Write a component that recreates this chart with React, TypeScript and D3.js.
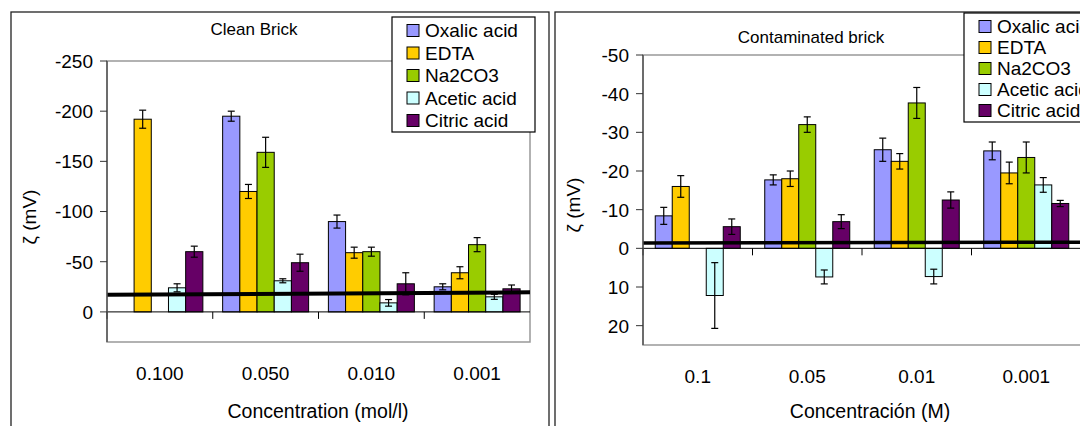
import React from "react";
import * as d3 from "d3";

// categories
const cleanCats = ["0.100", "0.050", "0.010", "0.001"];
const contCats = ["0.1", "0.05", "0.01", "0.001"];
const seriesNames = ["Oxalic acid", "EDTA", "Na2CO3", "Acetic acid", "Citric acid"];
const seriesColors = ["#9999FF", "#FFCC00", "#99CC00", "#CCFFFF", "#660066"];

// clean brick, zeta (mV) and error
const oxalicClean = [null, -195, -90, -25];
const edtaClean = [-192, -120, -59, -39];
const na2co3Clean = [null, -159, -60, -67];
const aceticClean = [-24, -31, -9, -15];
const citricClean = [-60, -49, -28, -23];
const oxalicCleanErr = [0, 5, 6.5, 3];
const edtaCleanErr = [9, 7, 5.5, 6];
const na2co3CleanErr = [0, 15, 4.5, 7];
const aceticCleanErr = [4, 2, 3.3, 2.5];
const citricCleanErr = [5.5, 8.5, 11, 3.8];
const cleanTrend = [-17, -19.5];
const cleanTicks = [-250, -200, -150, -100, -50, 0];

// contaminated brick
const oxalicCont = [-8.4, -17.7, -25.5, -25.2];
const edtaCont = [-16, -18, -22.5, -19.5];
const na2co3Cont = [null, -32, -37.6, -23.5];
const aceticCont = [12.2, 7.4, 7.3, -16.4];
const citricCont = [-5.6, -6.9, -12.5, -11.6];
const oxalicContErr = [2.2, 1.3, 3, 2.3];
const edtaContErr = [2.8, 2, 2, 2.8];
const na2co3ContErr = [0, 2, 4, 4];
const aceticContErr = [8.5, 1.8, 1.9, 1.9];
const citricContErr = [2, 1.8, 2.1, 0.8];
const contTrend = [-1.35, -1.6];
const contTicks = [-50, -40, -30, -20, -10, 0, 10, 20];

const FONT = "'Liberation Sans', Arial, sans-serif";

function Panel(props: any) {
  const { frameX, frameW, title, titleX, titleY, left, right, top, bottom, domain,
    ticks, cats, values, errs, gap, trend, trendW, xTitle, xTitleX, catY, yLabelX, yLabelY, legend } = props;
  const y = d3.scaleLinear().domain(domain).range([top, bottom]);
  const x0 = d3.scaleBand().domain(cats).range([left, right]).paddingInner(0).paddingOuter(0);
  const x1 = d3.scaleBand().domain(seriesNames).range([0, x0.bandwidth()]).paddingInner(0).paddingOuter(gap / 2);
  const zero = y(0);
  return (
    <g>
      <rect x={frameX} y={12} width={frameW} height={430} fill="white" stroke="#222" strokeWidth={1.3} />
      <text x={titleX} y={titleY} textAnchor="middle" fontSize={17} fontFamily={FONT}>{title}</text>
      {/* plot area */}
      <rect x={left} y={top} width={right - left} height={bottom - top} fill="white" stroke="#999" strokeWidth={1.5} />
      {values.map((vals: (number | null)[], si: number) =>
        vals.map((v, ci) => {
          if (v === null) return null;
          const bx = (x0(cats[ci]) as number) + (x1(seriesNames[si]) as number);
          const bw = x1.bandwidth();
          const y0 = Math.min(y(v), zero);
          const h = Math.abs(y(v) - zero);
          const e = errs[si][ci];
          const cx = bx + bw / 2;
          return (
            <g key={si + "-" + ci}>
              <rect x={bx} y={y0} width={bw} height={h} fill={seriesColors[si]} stroke="#000" strokeWidth={1} />
              {e > 0 && (
                <g stroke="#000" strokeWidth={1.2}>
                  <line x1={cx} x2={cx} y1={y(v - e)} y2={y(v + e)} />
                  <line x1={cx - 3.5} x2={cx + 3.5} y1={y(v - e)} y2={y(v - e)} />
                  <line x1={cx - 3.5} x2={cx + 3.5} y1={y(v + e)} y2={y(v + e)} />
                </g>
              )}
            </g>
          );
        })
      )}
      {/* zero line and category ticks */}
      <line x1={left} x2={right} y1={zero} y2={zero} stroke="#000" strokeWidth={1} />
      {cats.map((c: string, i: number) => (
        <line key={"ct" + i} x1={(x0(c) as number)} x2={(x0(c) as number)} y1={zero} y2={zero + 7} stroke="#000" strokeWidth={1} />
      ))}
      <line x1={left} x2={left + trendW} y1={y(trend[0])} y2={y(trend[1])} stroke="#000" strokeWidth={trendW > 430 ? 3.5 : 4} />
      {/* y axis */}
      <line x1={left} x2={left} y1={top} y2={bottom} stroke="#555" strokeWidth={1.5} />
      {ticks.map((t: number) => (
        <g key={"yt" + t}>
          <line x1={left - 7} x2={left} y1={y(t)} y2={y(t)} stroke="#333" strokeWidth={1} />
          <text x={left - 14} y={y(t)} dy="0.36em" textAnchor="end" fontSize={19} fontFamily={FONT}>{t}</text>
        </g>
      ))}
      {cats.map((c: string) => (
        <text key={"cl" + c} x={(x0(c) as number) + x0.bandwidth() / 2} y={catY} textAnchor="middle" fontSize={19} fontFamily={FONT}>{c}</text>
      ))}
      <text x={xTitleX} y={418} textAnchor="middle" fontSize={19.5} fontFamily={FONT}>{xTitle}</text>
      <text transform={`translate(${yLabelX},${yLabelY}) rotate(-90)`} textAnchor="middle" dy="0.36em" fontSize={19} fontFamily={FONT}>ζ (mV)</text>
      {/* legend */}
      <rect x={legend.x} y={legend.y} width={legend.w} height={legend.h} fill="white" stroke="#000" strokeWidth={1.2} />
      {seriesNames.map((s, i) => {
        const base = legend.base + i * legend.step;
        return (
          <g key={"lg" + s}>
            <rect x={legend.x + 15} y={base - 12.5} width={12} height={12} fill={seriesColors[i]} stroke="#000" strokeWidth={1} />
            <text x={legend.x + 33} y={base} fontSize={19} fontFamily={FONT}>{s}</text>
          </g>
        );
      })}
    </g>
  );
}

export default function App() {
  return (
    <div style={{ position: "absolute", left: 0, top: 0 }}>
      <svg width={1080} height={426} style={{ display: "block", background: "white" }}>
        <Panel frameX={11} frameW={538} title="Clean Brick" titleX={254} titleY={35}
          left={107} right={530} top={61} bottom={342} domain={[-250, 30]} ticks={cleanTicks}
          cats={cleanCats}
          values={[oxalicClean, edtaClean, na2co3Clean, aceticClean, citricClean]}
          errs={[oxalicCleanErr, edtaCleanErr, na2co3CleanErr, aceticCleanErr, citricCleanErr]}
          gap={1.15} trend={cleanTrend} trendW={423}
          xTitle="Concentration (mol/l)" xTitleX={318} catY={380} yLabelX={29} yLabelY={217}
          legend={{ x: 392, y: 17, w: 143, h: 115, base: 37, step: 22.5 }} />
        <Panel frameX={555} frameW={540} title="Contaminated brick" titleX={811} titleY={43}
          left={643} right={1081} top={55} bottom={345} domain={[-50, 25]} ticks={contTicks}
          cats={contCats}
          values={[oxalicCont, edtaCont, na2co3Cont, aceticCont, citricCont]}
          errs={[oxalicContErr, edtaContErr, na2co3ContErr, aceticContErr, citricContErr]}
          gap={1.44} trend={contTrend} trendW={438}
          xTitle="Concentración (M)" xTitleX={870} catY={383} yLabelX={573} yLabelY={205}
          legend={{ x: 964, y: 13, w: 200, h: 109, base: 33, step: 21 }} />
      </svg>
    </div>
  );
}
